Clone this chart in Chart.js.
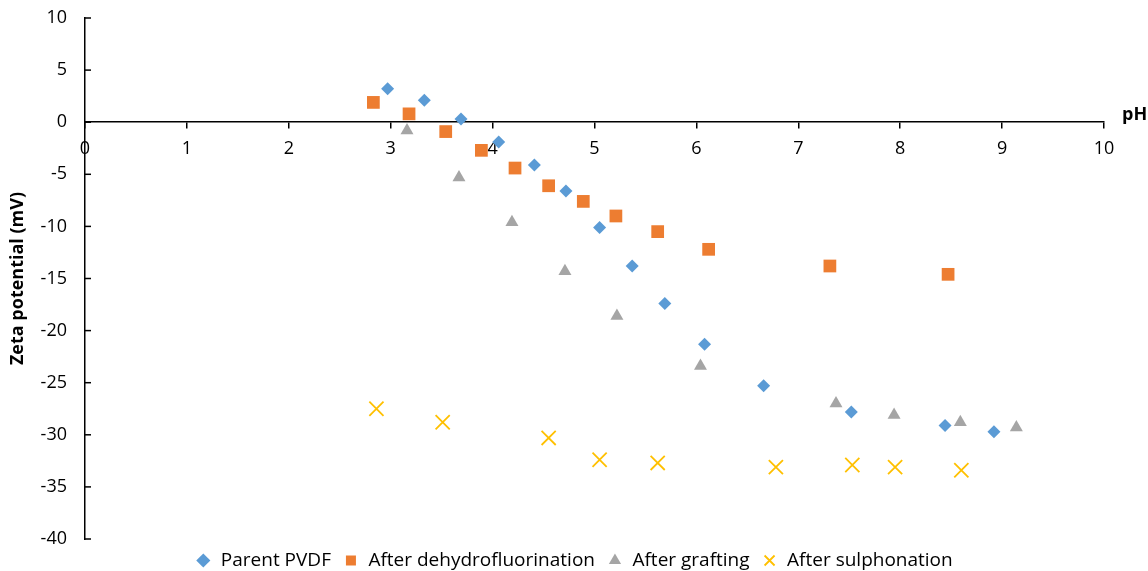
<!DOCTYPE html>
<html>
<head>
<meta charset="utf-8">
<script src="https://cdn.jsdelivr.net/npm/chart.js@4"></script>
<style>
  html, body { margin: 0; padding: 0; background: #fff; }
  #wrap { width: 1148px; height: 571px; }
</style>
</head>
<body>
<div id="wrap"><canvas id="chart"></canvas></div>
<script>
const xTicks = [0, 1, 2, 3, 4, 5, 6, 7, 8, 9, 10];
const yTicks = [10, 5, 0, -5, -10, -15, -20, -25, -30, -35, -40];

const parentX = [2.97, 3.33, 3.69, 4.06, 4.41, 4.72, 5.05, 5.37, 5.69, 6.08, 6.66, 7.52, 8.44, 8.92];
const parentY = [3.2, 2.1, 0.3, -1.9, -4.1, -6.6, -10.1, -13.8, -17.4, -21.3, -25.3, -27.8, -29.1, -29.7];

const dehydroX = [2.83, 3.18, 3.54, 3.89, 4.22, 4.55, 4.89, 5.21, 5.62, 6.12, 7.31, 8.47];
const dehydroY = [1.9, 0.8, -0.9, -2.7, -4.4, -6.1, -7.6, -9.0, -10.5, -12.2, -13.8, -14.6];

const graftX = [3.16, 3.67, 4.19, 4.71, 5.22, 6.04, 7.37, 7.94, 8.59, 9.14];
const graftY = [-0.8, -5.3, -9.6, -14.3, -18.6, -23.4, -27.0, -28.1, -28.8, -29.3];

const sulphX = [2.86, 3.51, 4.55, 5.05, 5.62, 6.78, 7.53, 7.95, 8.60];
const sulphY = [-27.5, -28.8, -30.3, -32.4, -32.7, -33.1, -32.9, -33.1, -33.4];

const FONT = "'Open Sans', sans-serif";
const pts = (xs, ys) => xs.map((x, i) => ({ x, y: ys[i] }));

// inward y ticks and the "pH" label at the end of the x axis
const axisExtras = {
  id: "axisExtras",
  afterDraw(chart) {
    const { ctx, scales: { x, y } } = chart;
    ctx.save();
    ctx.strokeStyle = "#000";
    ctx.lineWidth = 1.5;
    yTicks.forEach((v) => {
      const py = y.getPixelForValue(v);
      ctx.beginPath();
      ctx.moveTo(x.left, py);
      ctx.lineTo(x.left + 6, py);
      ctx.stroke();
    });
    ctx.fillStyle = "#000";
    ctx.font = "bold 18px " + FONT;
    ctx.textAlign = "left";
    ctx.textBaseline = "middle";
    ctx.fillText("pH", x.right + 18, y.getPixelForValue(0) - 7);
    ctx.restore();
  },
};

new Chart(document.getElementById("chart"), {
  type: "scatter",
  data: {
    datasets: [
      { label: "Parent PVDF", data: pts(parentX, parentY), pointStyle: "rectRot", pointRadius: 6.5,
        backgroundColor: "#5B9BD5", borderColor: "#5B9BD5", borderWidth: 0 },
      { label: "After dehydrofluorination", data: pts(dehydroX, dehydroY), pointStyle: "rect", pointRadius: 9,
        backgroundColor: "#ED7D31", borderColor: "#ED7D31", borderWidth: 0 },
      { label: "After grafting", data: pts(graftX, graftY), pointStyle: "triangle", pointRadius: 7.5,
        backgroundColor: "#A5A5A5", borderColor: "#A5A5A5", borderWidth: 0 },
      { label: "After sulphonation", data: pts(sulphX, sulphY), pointStyle: "crossRot", pointRadius: 10,
        backgroundColor: "#FFC000", borderColor: "#FFC000", borderWidth: 1.8 },
    ],
  },
  options: {
    responsive: true,
    maintainAspectRatio: false,
    animation: false,
    layout: { padding: { left: 0, right: 0, top: 18, bottom: -9 } },
    plugins: {
      tooltip: { enabled: false },
      legend: {
        position: "bottom",
        labels: {
          usePointStyle: true,
          boxWidth: 16,
          boxHeight: 10,
          padding: 12,
          color: "#000",
          font: { family: FONT, size: 19 },
        },
      },
    },
    scales: {
      x: {
        type: "linear",
        min: 0,
        max: 10,
        position: { y: 0 },
        afterBuildTicks: (s) => { s.ticks = xTicks.map((v) => ({ value: v })); },
        grid: { drawOnChartArea: false, tickLength: 6, color: "#000", lineWidth: 1.5 },
        border: { color: "#000", width: 1.5 },
        ticks: { color: "#000", padding: 10, font: { family: FONT, size: 18 } },
      },
      y: {
        type: "linear",
        min: -40,
        max: 10,
        afterBuildTicks: (s) => { s.ticks = yTicks.map((v) => ({ value: v })); },
        afterFit: (s) => { s.width = 85; },
        grid: { drawOnChartArea: false, drawTicks: true, tickLength: 16, tickColor: "rgba(0,0,0,0)" },
        border: { color: "#000", width: 1.5 },
        ticks: { color: "#000", padding: 2, font: { family: FONT, size: 18 } },
        title: { display: true, text: "Zeta potential (mV)", color: "#000", padding: 7,
                 font: { family: FONT, size: 18, weight: "bold" } },
      },
      // empty right margin that holds the "pH" label
      yRight: {
        type: "linear",
        position: "right",
        min: -40,
        max: 10,
        afterFit: (s) => { s.width = 44; },
        grid: { display: false },
        border: { display: false },
        ticks: { display: false },
      },
    },
  },
  plugins: [axisExtras],
});
</script>
</body>
</html>
